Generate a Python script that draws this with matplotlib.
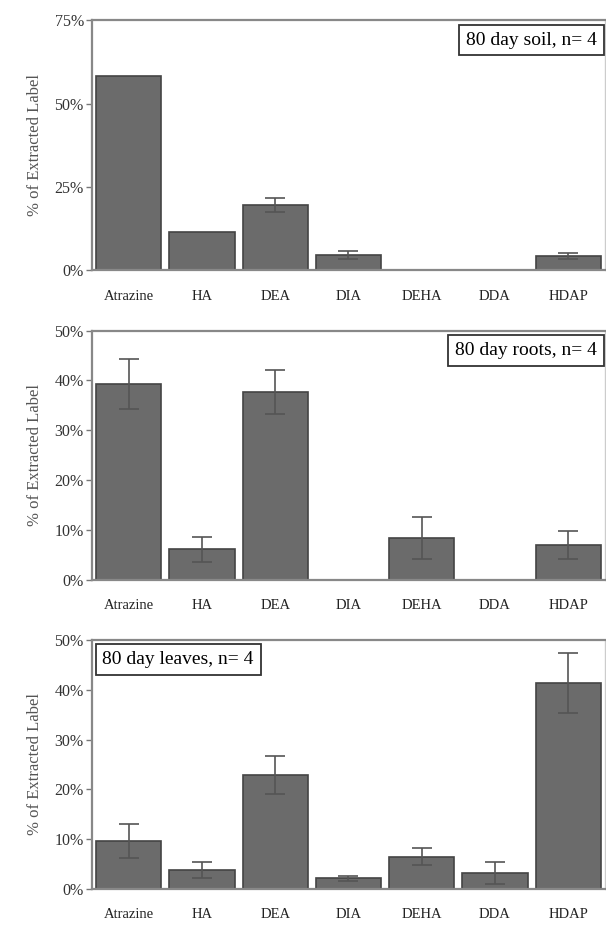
import matplotlib.pyplot as plt
import numpy as np
from matplotlib.ticker import FuncFormatter

plt.rcParams['font.family'] = ['Liberation Serif', 'DejaVu Serif']

compounds = ["Atrazine", "HA", "DEA", "DIA", "DEHA", "DDA", "HDAP"]

soil = [58.2, 11.4, 19.6, 4.6, 0.0, 0.0, 4.3]
soil_err = [0.0, 0.0, 2.0, 1.2, 0.0, 0.0, 0.8]

roots = [39.2, 6.1, 37.6, 0.0, 8.4, 0.0, 7.0]
roots_err = [5.0, 2.5, 4.4, 0.0, 4.2, 0.0, 2.8]

leaves = [9.7, 3.8, 22.8, 2.1, 6.5, 3.2, 41.4]
leaves_err = [3.4, 1.6, 3.8, 0.6, 1.7, 2.2, 6.0]

panels = [
    (soil, soil_err, 75, [0, 25, 50, 75], "80 day soil, n= 4", "right"),
    (roots, roots_err, 50, [0, 10, 20, 30, 40, 50], "80 day roots, n= 4", "right"),
    (leaves, leaves_err, 50, [0, 10, 20, 30, 40, 50], "80 day leaves, n= 4", "left"),
]

# axes boxes in figure fraction [left, bottom, width, height]
boxes = [
    [0.152, 0.708, 0.846, 0.270],
    [0.152, 0.374, 0.846, 0.269],
    [0.152, 0.040, 0.846, 0.269],
]

fig = plt.figure(figsize=(6.06, 9.26), dpi=100)
x = np.arange(len(compounds))
pct = FuncFormatter(lambda v, p: "%d%%" % v)

for (vals, errs, ymax, ticks, tag, side), box in zip(panels, boxes):
    ax = fig.add_axes(box)
    errs_plot = [e if e > 0 else np.nan for e in errs]
    ax.bar(x, vals, width=0.89, color="#6b6b6b", edgecolor="#444444", linewidth=1.2)
    ax.errorbar(x, vals, yerr=errs_plot, fmt="none", ecolor="#555555",
                elinewidth=1.2, capsize=7, capthick=1.2)
    ax.set_xlim(-0.5, len(compounds) - 0.5)
    ax.set_ylim(0, ymax)
    ax.set_yticks(ticks)
    ax.yaxis.set_major_formatter(pct)
    ax.set_xticks(x)
    ax.set_xticklabels(compounds, fontsize=10.5, color="#222222")
    ax.tick_params(axis="x", length=0, pad=14)
    ax.tick_params(axis="y", length=4, width=1, color="#777777", labelsize=11.5,
                   labelcolor="#333333", pad=2)
    for s in ["left", "bottom", "top"]:
        ax.spines[s].set_color("#888888")
        ax.spines[s].set_linewidth(1.6)
    ax.spines["right"].set_color("#cccccc")
    ax.spines["right"].set_linewidth(1.0)
    ax.set_ylabel("% of Extracted Label", fontsize=12, color="#555555", labelpad=8)
    bbox = dict(boxstyle="square,pad=0.35", fc="white", ec="#333333", lw=1.3)
    if side == "right":
        ax.text(0.985, 0.955, tag, transform=ax.transAxes, ha="right", va="top",
                fontsize=14, bbox=bbox)
    else:
        ax.text(0.02, 0.955, tag, transform=ax.transAxes, ha="left", va="top",
                fontsize=14, bbox=bbox)

fig.savefig("out.png", dpi=100)
